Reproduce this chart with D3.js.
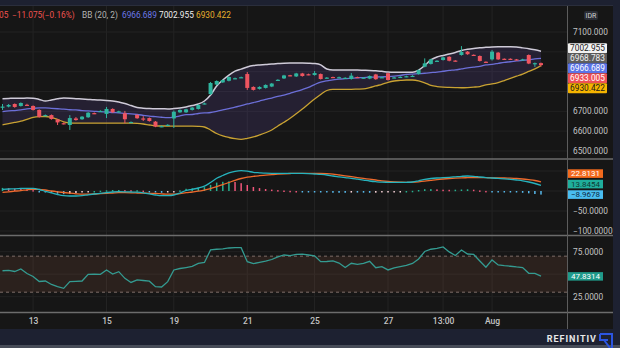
<!DOCTYPE html>
<html><head><meta charset="utf-8">
<script src="https://cdn.jsdelivr.net/npm/d3@7"></script>
<style>
html,body{margin:0;padding:0;background:#1d2131;overflow:hidden;}
svg{display:block;}
text{font-family:Roboto,"Noto Sans",sans-serif;}
</style></head><body>
<svg id="c" width="620" height="348"></svg>
<script>
// ---------- DATA ----------
const openP = [6722,6724,6737,6727,6733,6727,6707,6678,6681,6659,
6640,6631,6664,6660,6670,6691,6700,6687,6712,6697,
6690,6643,6682,6664,6666,6648,6622,6629,6664,6695,
6695,6707,6712,6738,6787,6835,6846,6854,6865,6870,
6888,6823,6813,6818,6825,6857,6866,6882,6876,6891,
6887,6883,6888,6868,6873,6870,6867,6863,6873,6868,
6865,6886,6870,6892,6869,6872,6874,6876,6888,6925,
6939,6953,6959,6975,6956,6984,7001,6985,6979,6950,
6962,6996,6965,6965,6962,6960,6984,6940,6943];
const highP = [6737,6737,6740,6745,6738,6730,6710,6684,6684,6661,
6643,6681,6671,6676,6696,6694,6705,6722,6715,6703,
6702,6649,6685,6676,6669,6651,6628,6635,6704,6710,
6713,6722,6735,6744,6848,6856,6861,6876,6870,6875,
6898,6826,6826,6836,6843,6862,6884,6884,6894,6894,
6890,6903,6891,6873,6875,6875,6872,6893,6875,6873,
6881,6889,6875,6895,6874,6877,6880,6882,6911,6967,
6965,6958,6975,6978,6958,7029,7004,6987,6982,6952,
7009,6999,6967,6967,6964,6965,6987,6946,6946];
const lowP = [6707,6720,6718,6724,6728,6704,6668,6675,6658,6631,
6634,6606,6653,6657,6667,6686,6697,6666,6692,6694,
6640,6641,6662,6651,6648,6620,6620,6627,6616,6692,
6692,6704,6709,6735,6782,6832,6843,6851,6862,6868,
6808,6805,6810,6815,6822,6854,6863,6877,6873,6875,
6882,6880,6860,6866,6868,6868,6864,6860,6868,6866,
6862,6859,6868,6855,6867,6870,6872,6874,6885,6922,
6936,6951,6956,6952,6951,6981,6985,6980,6951,6945,
6956,6959,6960,6960,6957,6958,6938,6924,6926];
const closeP = [6724,6732,6722,6742,6731,6707,6671,6681,6661,6644,
6637,6666,6656,6673,6693,6689,6702,6712,6695,6700,
6660,6646,6665,6662,6651,6623,6625,6632,6698,6707,
6710,6719,6732,6740,6843,6853,6858,6873,6867,6872,
6818,6808,6823,6833,6840,6859,6881,6880,6891,6878,
6885,6893,6863,6870,6871,6872,6869,6880,6871,6870,
6878,6862,6872,6858,6871,6874,6877,6879,6908,6942,
6962,6955,6972,6955,6954,6999,6988,6983,6954,6948,
7001,6962,6963,6963,6960,6962,6941,6943,6933.005];

const bbUpper = [6764,6765,6766,6766,6767,6766,6760,6752,6757,6763,
6767,6766,6764,6762,6760,6758,6757,6755,6752,6747,
6739,6729,6719,6716,6714,6713,6713,6712,6714,6717,
6722,6729,6737,6752,6782,6828,6858,6883,6903,6913,
6924,6931,6934,6936,6939,6941,6943,6944,6944,6944,
6943,6941,6934,6913,6908,6908,6908,6908,6908,6907,
6906,6904,6902,6898,6897,6897,6897,6897,6908,6931,
6959,6974,6982,6989,6997,7007,7013,7017,7020,7023,
7025,7026,7026,7026,7024,7020,7016,7010,7002.955];
const bbMiddle = [6698,6702,6704,6707,6712,6715,6717,6717,6715,6713,
6711,6708,6707,6704,6702,6700,6698,6697,6694,6692,
6689,6687,6684,6680,6676,6673,6670,6668,6671,6677,
6683,6684,6689,6692,6694,6700,6707,6714,6721,6729,
6737,6744,6752,6760,6767,6775,6782,6791,6800,6810,
6821,6835,6847,6854,6859,6862,6865,6867,6869,6870,
6872,6873,6874,6875,6877,6881,6886,6888,6890,6892,
6895,6898,6902,6906,6909,6914,6919,6923,6927,6934,
6937,6942,6947,6950,6954,6957,6960,6964,6966.689];
const bbLower = [6632,6638,6644,6650,6660,6669,6673,6674,6669,6659,
6647,6641,6640,6640,6640,6640,6640,6640,6640,6640,
6640,6640,6639,6636,6631,6627,6626,6626,6625,6625,
6625,6625,6624,6621,6606,6588,6576,6568,6562,6559,
6564,6571,6581,6592,6606,6626,6645,6665,6688,6712,
6737,6762,6785,6805,6811,6811,6811,6811,6812,6813,
6819,6828,6836,6846,6853,6856,6858,6858,6854,6844,
6831,6825,6822,6821,6820,6819,6820,6822,6825,6833,
6838,6845,6855,6866,6877,6888,6901,6914,6930.422];

const macdLine = [4.25,5,5.5,6.25,6.75,6.5,3.75,-0.75,-4.5,-8.75,
-11.75,-12.5,-12.5,-11.75,-9.5,-7.5,-5.75,-4,-2.5,-1.75,
-2,-2.5,-3,-4.5,-7,-10,-11.75,-11.5,-10,-5,
1.25,4.25,7.5,12,21.25,31.75,38.75,45.5,49.25,50.75,
49.5,46.75,45.5,44.5,44.25,44.25,44.25,44.25,44.25,44,
43.5,42.5,41.5,40,37.5,35.5,33.5,31.75,29.5,27.25,
25,23.25,22,21.75,21.5,21.5,21.75,22.5,25.5,29,
31.25,32.5,33.25,34.25,35.5,36.75,37.5,36.75,35,33.5,
32.5,31.5,30.5,29.25,27.5,25.5,22.5,18.75,13.84536];
const signalLine = [-3.5,-2,-0.5,1,3,4.25,4,2.5,0,-2,
-3.75,-5.5,-7,-8,-8,-7.5,-6.5,-5.75,-5,-4.25,
-4.25,-4.5,-5,-5.5,-5.75,-6.25,-7.25,-8,-8,-6.5,
-4.25,-2.5,-0.5,2.5,6,10.75,15.75,21.25,26.75,31.25,
34.5,36.75,38.25,39.5,40.75,42,43,43.75,44.25,44.25,
44.25,44.25,44,43.25,42,40,38,35.75,33.5,31.5,
29.5,27.5,25.5,24,23,22.25,21.75,22,23,24.5,
26.5,28.5,30,31.25,32.25,33,33.25,33.5,33.5,33.25,
33,32.75,32.5,32,31.25,30,28.25,26.25,22.81314];

const rsiLine = [53.8,54.3,53,55.8,50.8,47.4,41.9,42.4,38.6,36.3,
34.3,41.7,42.1,42.4,49.9,50.1,49.8,54.7,50.2,52.8,
45.4,40.8,43.6,43,42.2,36.1,35.8,41.7,54.7,56.3,
57.4,58.6,61.9,63,76.9,77.7,78.2,79.1,79.4,79.4,
63.9,61.7,63,64.4,66.3,69.1,71.3,70.6,71.9,72.2,
71.3,70.4,63.9,64.1,64.7,62.4,57.4,62.1,61,61.9,
64.3,57.2,58.3,54.7,56.9,58.3,59.7,61.9,66.9,75.2,
77.7,78.6,80.2,74.7,70.8,76.9,72.4,71.9,64.7,57.7,
65.8,60.2,59.4,58.8,58,57.4,51,50.8,47.8314];

const xTickIdx = [5,17,28,40,51,63,72,80];
const xTickLabels = ["13","15","19","21","25","27","13:00","Aug"];
const priceTicks = [6500,6600,6700,6800,6900,7000,7100];
const macdTicks = [-100,-50,0,50];
const rsiTicks = [25,50,75];
const rsiBands = [30,70];
const priceMarks = [7002.955,6968.783,6966.689,6933.005,6930.422];
const priceMarkColors = [["#f2f2f2","#1a1a1a"],["#5d5d5d","#f0f0f0"],["#5b74e6","#ffffff"],["#ee5157","#ffffff"],["#f5b400","#1a1a1a"]];
const headerChange = ["05", "\u221211.075", "(\u22120.16%)"];
const bbTitle = "BB (20, 2)";

// ---------- SETUP ----------
const N = closeP.length;
const svg = d3.select("#c");
const plotR = 567;
const x = d3.scaleLinear().domain([0, N-1]).range([2.5, 541]);
const yP = d3.scaleLinear().domain([6464.6, 7236.2]).range([158, 5]);
const yM = d3.scaleLinear().domain([-110, 77.5]).range([235, 160]);
const yR = d3.scaleLinear().domain([8, 92.4]).range([312, 236]);

svg.append("rect").attr("width",620).attr("height",348).attr("fill","#1d2131");
svg.append("rect").attr("x",0).attr("y",5).attr("width",613).attr("height",324).attr("fill","#161616");
svg.append("rect").attr("x",0).attr("y",345).attr("width",620).attr("height",3).attr("fill","#474c58");

const defs = svg.append("defs");
[["c1",5,153],["c2",160,75],["c3",236,76]].forEach(([id,y,h])=>{
  defs.append("clipPath").attr("id",id).append("rect").attr("x",0).attr("y",y).attr("width",plotR).attr("height",h);
});

// vertical grid
svg.append("g").selectAll("line").data(xTickIdx).join("line")
  .attr("x1",d=>x(d)).attr("x2",d=>x(d)).attr("y1",5).attr("y2",312)
  .attr("stroke","#242424").attr("stroke-width",1);

// horizontal grids
svg.append("g").selectAll("line").data(priceTicks).join("line")
  .attr("x1",0).attr("x2",plotR).attr("y1",d=>yP(d)).attr("y2",d=>yP(d))
  .attr("stroke","#222222");
svg.append("g").selectAll("line").data(macdTicks).join("line")
  .attr("x1",0).attr("x2",plotR).attr("y1",d=>yM(d)).attr("y2",d=>yM(d))
  .attr("stroke","#222222");
svg.append("g").selectAll("line").data(rsiTicks).join("line")
  .attr("x1",0).attr("x2",plotR).attr("y1",d=>yR(d)).attr("y2",d=>yR(d))
  .attr("stroke","#222222");

// ---------- PANE 1: BB + candles ----------
const idx = d3.range(N);
const p1 = svg.append("g").attr("clip-path","url(#c1)");
p1.append("path").datum(idx)
  .attr("d", d3.area().x(i=>x(i)).y0(i=>yP(bbLower[i])).y1(i=>yP(bbUpper[i])).curve(d3.curveMonotoneX))
  .attr("fill","rgba(118,88,196,0.16)");
const bbLine = arr => d3.line().x(i=>x(i)).y(i=>yP(arr[i])).curve(d3.curveMonotoneX);
p1.append("path").datum(idx).attr("d",bbLine(bbMiddle)).attr("fill","none").attr("stroke","#6c6fd8").attr("stroke-width",1.3);
p1.append("path").datum(idx).attr("d",bbLine(bbUpper)).attr("fill","none").attr("stroke","#cfcbd8").attr("stroke-width",1.5);
p1.append("path").datum(idx).attr("d",bbLine(bbLower)).attr("fill","none").attr("stroke","#c9a232").attr("stroke-width",1.3);

const up = "#2fb59f", dn = "#ef5560";
const cg = p1.append("g").selectAll("g").data(idx).join("g");
cg.append("line").attr("x1",i=>x(i)).attr("x2",i=>x(i))
  .attr("y1",i=>yP(highP[i])).attr("y2",i=>yP(lowP[i]))
  .attr("stroke",i=>closeP[i]>=openP[i]?up:dn).attr("stroke-width",1);
cg.append("rect").attr("x",i=>x(i)-2).attr("width",4)
  .attr("y",i=>yP(Math.max(openP[i],closeP[i])))
  .attr("height",i=>Math.max(1.2, yP(Math.min(openP[i],closeP[i]))-yP(Math.max(openP[i],closeP[i]))))
  .attr("fill",i=>closeP[i]>=openP[i]?up:dn);

// ---------- PANE 2: MACD ----------
const p2 = svg.append("g").attr("clip-path","url(#c2)");
const hist = idx.map(i=>macdLine[i]-signalLine[i]);
p2.append("g").selectAll("rect").data(idx).join("rect")
  .attr("x",i=>x(i)-0.75).attr("width",1.5)
  .attr("y",i=>Math.min(yM(0),yM(hist[i])))
  .attr("height",i=>Math.max(1.5, Math.abs(yM(hist[i])-yM(0))))
  .attr("fill",i=>{
    const h=hist[i], pv = i>0?hist[i-1]:h;
    if(h>=0) return h>=pv ? "#26b08f" : "#f0567a";
    return h>pv ? "#f7d3d8" : "#57b9ec";
  });
const mLine = arr => d3.line().x(i=>x(i)).y(i=>yM(arr[i])).curve(d3.curveMonotoneX);
p2.append("path").datum(idx).attr("d",mLine(signalLine)).attr("fill","none").attr("stroke","#ee6a2c").attr("stroke-width",1.3);
p2.append("path").datum(idx).attr("d",mLine(macdLine)).attr("fill","none").attr("stroke","#27b3bd").attr("stroke-width",1.3);

// ---------- PANE 3: RSI ----------
const p3 = svg.append("g").attr("clip-path","url(#c3)");
p3.append("rect").attr("x",0).attr("width",plotR)
  .attr("y",yR(rsiBands[1])).attr("height",yR(rsiBands[0])-yR(rsiBands[1]))
  .attr("fill","rgba(130,80,60,0.2)");
p3.append("g").selectAll("line").data(rsiBands).join("line")
  .attr("x1",0).attr("x2",plotR).attr("y1",d=>yR(d)).attr("y2",d=>yR(d))
  .attr("stroke","#7d6d68").attr("stroke-dasharray","3,3").attr("stroke-width",1);
p3.append("path").datum(idx)
  .attr("d",d3.line().x(i=>x(i)).y(i=>yR(rsiLine[i])))
  .attr("fill","none").attr("stroke","#349b91").attr("stroke-width",1.3);

// ---------- separators ----------
[159,235.5,312.5].forEach(y=>{
  svg.append("line").attr("x1",0).attr("x2",613).attr("y1",y).attr("y2",y).attr("stroke","#6c6c6c").attr("stroke-width",1.3);
});
svg.append("line").attr("x1",567.5).attr("x2",567.5).attr("y1",5).attr("y2",329).attr("stroke","#5c5c5c");
svg.append("line").attr("x1",0).attr("x2",613).attr("y1",5.5).attr("y2",5.5).attr("stroke","#2a2e3c");

// ---------- axes ----------
function sideAxis(scale, ticks, fmt, hide){
  const g = svg.append("g").attr("transform","translate(570,0)")
    .call(d3.axisRight(scale).tickValues(ticks.filter(t=>!hide(scale(t)))).tickFormat(fmt).tickSize(0).tickPadding(3));
  g.select(".domain").remove();
  g.selectAll("text").attr("fill","#c4c4c4").attr("font-size",8.3);
  return g;
}
// price label boxes stacked
const pm = priceMarks.map((v,k)=>({v,k,y:yP(v)}));
pm.forEach((d,k)=>{ d.sy = k===0 ? d.y-3 : Math.max(d.y, pm[k-1].sy+10); });
sideAxis(yP, priceTicks, d3.format(".3f"), y=>pm.some(d=>Math.abs(d.sy-y)<9));
const pmG = svg.append("g");
pm.forEach(d=>{
  pmG.append("rect").attr("x",568).attr("y",d.sy-5).attr("width",39).attr("height",10).attr("rx",1).attr("fill",priceMarkColors[d.k][0]);
  pmG.append("text").attr("x",587.5).attr("y",d.sy+3).attr("text-anchor","middle").attr("font-size",8.3).attr("fill",priceMarkColors[d.k][1]).text(d3.format(".3f")(d.v));
});

// MACD labels
const last = N-1;
const mm = [
  {v:hist[last], bg:"#49bdf0", fg:"#0d2b44"},
  {v:macdLine[last], bg:"#1fae9c", fg:"#0f3b36"},
  {v:signalLine[last], bg:"#f26a1d", fg:"#ffffff"}
];
mm.forEach((d,k)=>{ d.y = yM(d.v); d.sy = k===0 ? d.y : Math.min(d.y, mm[k-1].sy-10.5); });
sideAxis(yM, macdTicks, d3.format(".4f"), y=>mm.some(d=>Math.abs(d.sy-y)<8));
mm.forEach(d=>{
  svg.append("rect").attr("x",568).attr("y",d.sy-4.3).attr("width",35).attr("height",8.6).attr("fill",d.bg);
  svg.append("text").attr("x",585.5).attr("y",d.sy+2.9).attr("text-anchor","middle").attr("font-size",8).attr("fill",d.fg).text(d3.format(".4f")(d.v));
});

// RSI labels
const rv = rsiLine[last], ry = yR(rv);
sideAxis(yR, rsiTicks, d3.format(".4f"), y=>Math.abs(y-ry)<8);
svg.append("rect").attr("x",568).attr("y",ry-4).attr("width",35).attr("height",8.5).attr("fill","#1f9a8a");
svg.append("text").attr("x",585.5).attr("y",ry+3).attr("text-anchor","middle").attr("font-size",8).attr("fill","#ffffff").text(d3.format(".4f")(rv));

// IDR tag
svg.append("rect").attr("x",584).attr("y",11).attr("width",14).attr("height",9).attr("rx",2).attr("fill","#2a2d36");
svg.append("text").attr("x",591).attr("y",18.3).attr("text-anchor","middle").attr("font-size",7).attr("fill","#d0d0d0").text("IDR");

// time axis
const xa = svg.append("g").attr("transform","translate(0,313)")
  .call(d3.axisBottom(x).tickValues(xTickIdx).tickFormat((d,k)=>xTickLabels[k]).tickSize(0).tickPadding(5));
xa.select(".domain").remove();
xa.selectAll("text").attr("fill","#c4c4c4").attr("font-size",8.5).attr("font-weight",500);

// ---------- header legend ----------
const hdr = svg.append("g").attr("font-size",8.3);
hdr.append("text").attr("x",-1).attr("y",18).attr("fill","#ef5350").text(headerChange[0]);
hdr.append("text").attr("x",12).attr("y",18).attr("fill","#ef5350").text(headerChange[1]);
hdr.append("text").attr("x",42).attr("y",18).attr("fill","#ef5350").text(headerChange[2]);
hdr.append("text").attr("x",82).attr("y",18).attr("fill","#b4b4b4").text(bbTitle);
hdr.append("text").attr("x",122).attr("y",18).attr("fill","#6b78e6").text(d3.format(".3f")(bbMiddle[last]));
hdr.append("text").attr("x",159).attr("y",18).attr("fill","#f0f0f0").text(d3.format(".3f")(bbUpper[last]));
hdr.append("text").attr("x",196).attr("y",18).attr("fill","#e7b12e").text(d3.format(".3f")(bbLower[last]));

// ---------- footer ----------
svg.append("text").attr("x",597).attr("y",342).attr("text-anchor","end").attr("font-size",9).attr("font-weight",700)
  .attr("letter-spacing",1).attr("fill","#e8e8e8").text("REFINITIV");
svg.append("path").attr("d","M600,334 h12 v14 M600,334 v6 h8 M604,340 l6,8")
  .attr("fill","none").attr("stroke","#2c55e0").attr("stroke-width",2);
</script>
</body></html>
